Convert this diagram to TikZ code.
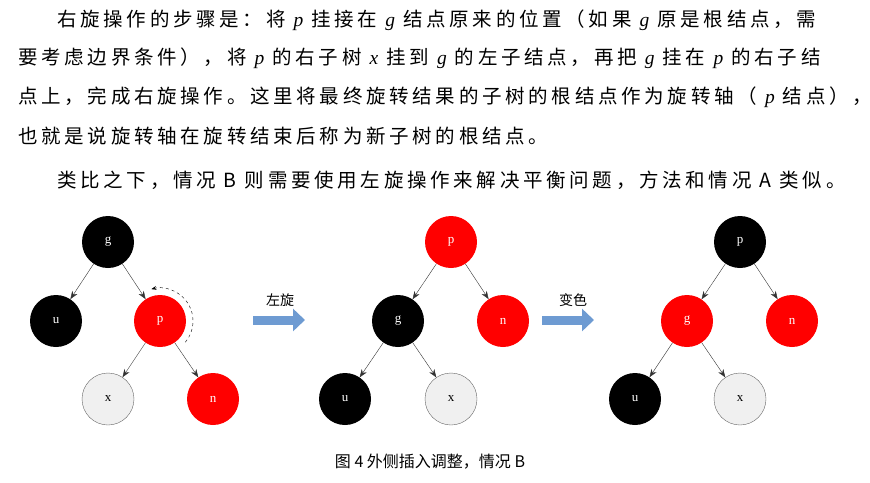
\documentclass[tikz,border=0pt]{standalone}
\usepackage{fontspec}
\newfontfamily\cjk{Noto Sans CJK SC}
\newfontfamily\cjkls[LetterSpace=19]{Noto Sans CJK SC}
\newfontfamily\latit{Liberation Serif Italic}
\setmainfont{Liberation Serif}
\newcommand\vi[1]{{\latit #1}}
\usetikzlibrary{arrows.meta}
\begin{document}
\begin{tikzpicture}[x=1pt,y=-1pt,
  nd/.style={circle,minimum size=52pt,inner sep=0pt,font=\fontsize{13}{13}\selectfont},
  blk/.style={nd,fill=black,text=white},
  red/.style={nd,fill=red,text=white},
  wht/.style={nd,fill=black!6,draw=black!60,text=black},
  ed/.style={-{Stealth[length=8pt,width=6pt]},black!80},
  txt/.style={anchor=west,inner sep=0pt,font=\cjkls\fontsize{19.5}{20}\selectfont},
  big/.style={-{Triangle[length=12pt,width=22pt]},line width=9pt,draw={rgb,255:red,110;green,155;blue,210}}]
\useasboundingbox (0,0) rectangle (870,482);
\node[txt] (l1) at (57,20) {右旋操作的步骤是：将 \vi{p} 挂接在 \vi{g} 结点原来的位置（如果 \vi{g} 原是根结点，需};
\node[txt] (l2) at (18,58) {要考虑边界条件），将 \vi{p} 的右子树 \vi{x} 挂到 \vi{g} 的左子结点，再把 \vi{g} 挂在 \vi{p} 的右子结};
\node[txt] (l3) at (18,97) {点上，完成右旋操作。这里将最终旋转结果的子树的根结点作为旋转轴（ \vi{p} 结点），};
\node[txt] (l4) at (18,136) {也就是说旋转轴在旋转结束后称为新子树的根结点。};
\node[txt] (l5) at (57,180) {类比之下，情况 B 则需要使用左旋操作来解决平衡问题，方法和情况 A 类似。};
% tree 1
\node[blk] (g1) at (108,242) {g};
\node[blk] (u1) at (56,321) {u};
\node[red] (p1) at (160,321) {p};
\node[wht] (x1) at (108,399) {x};
\node[red] (n1) at (213,399) {n};
\draw[ed] (g1) -- (u1); \draw[ed] (g1) -- (p1);
\draw[ed] (p1) -- (x1); \draw[ed] (p1) -- (n1);
\draw[dashed,-{Stealth[length=5pt]}] (160,321) ++(40:33) arc[start angle=40,end angle=-105,radius=33];
% arrow 1
\node[font=\cjk\fontsize{14}{14}\selectfont] (a1) at (280,300) {左旋};
\coordinate (a1s) at (253,320); \coordinate (a1e) at (305,320);
\draw[big] (a1s) -- (a1e);
% tree 2
\node[red] (p2) at (451,242) {p};
\node[blk] (g2) at (398,321) {g};
\node[red] (n2) at (503,321) {n};
\node[blk] (u2) at (345,399) {u};
\node[wht] (x2) at (451,399) {x};
\draw[ed] (p2) -- (g2); \draw[ed] (p2) -- (n2);
\draw[ed] (g2) -- (u2); \draw[ed] (g2) -- (x2);
% arrow 2
\node[font=\cjk\fontsize{14}{14}\selectfont] (a2) at (573,300) {变色};
\coordinate (a2s) at (542,320); \coordinate (a2e) at (594,320);
\draw[big] (a2s) -- (a2e);
% tree 3
\node[blk] (p3) at (740,242) {p};
\node[red] (g3) at (687,321) {g};
\node[red] (n3) at (792,321) {n};
\node[blk] (u3) at (635,399) {u};
\node[wht] (x3) at (740,399) {x};
\draw[ed] (p3) -- (g3); \draw[ed] (p3) -- (n3);
\draw[ed] (g3) -- (u3); \draw[ed] (g3) -- (x3);
\node[font=\cjk\fontsize{16}{16}\selectfont] (cap) at (430,462) {图 4 外侧插入调整，情况 B};
\end{tikzpicture}
\end{document}
